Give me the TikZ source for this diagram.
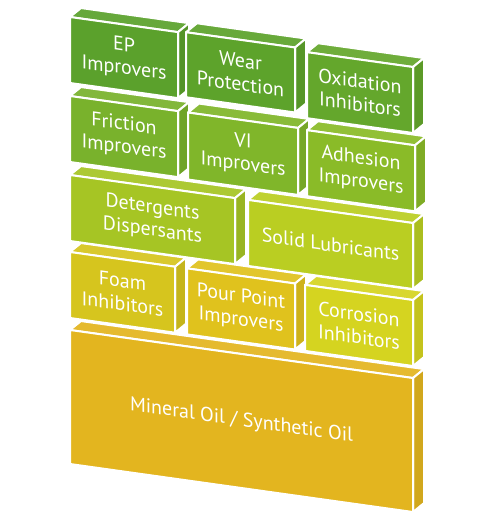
\documentclass[tikz,border=0pt]{standalone}
\usepackage{fontspec}
\setmainfont{PT Sans}
\definecolor{cEP}{HTML}{5BA12C}
\definecolor{cWear}{HTML}{5DA32B}
\definecolor{cOx}{HTML}{64A72C}
\definecolor{cFric}{HTML}{79B22C}
\definecolor{cVI}{HTML}{80B62A}
\definecolor{cAdh}{HTML}{8ABB28}
\definecolor{cDet}{HTML}{A6C524}
\definecolor{cSol}{HTML}{BACE22}
\definecolor{cFoam}{HTML}{D6C51E}
\definecolor{cPour}{HTML}{E0C21D}
\definecolor{cCorr}{HTML}{D5D420}
\definecolor{cBase}{HTML}{E3B51F}
\newcommand\blk[7]{%
  \filldraw[face, fill=#6!93!white] (#2,-#4) -- ({#2+11},{-#4+10.5}) -- ({#3+11},{-#4+10.5}) -- (#3,-#4) -- cycle;
  \filldraw[face, fill=#6!92!black] (#3,-#4) -- ({#3+11},{-#4+10.5}) -- ({#3+11},{-#5+10.5}) -- (#3,-#5) -- cycle;
  \filldraw[face, fill=#6] (#2,-#4) rectangle (#3,-#5);
  \node[lbl] (#1) at ({(#2+#3)/2},{-(#4+#5)/2}) {#7};
}
\begin{document}
\begin{tikzpicture}[x=1pt,y=1pt,
  face/.style={draw=white, line width=2pt, line join=round},
  lbl/.style={text=white, font=\fontsize{20}{23}\selectfont, align=center, transform shape, inner sep=0pt}]
\useasboundingbox (0,0) rectangle (480,-524);
\begin{scope}[cm={1,-0.14,0,1,(0,9.8)}]
\blk{base}{70}{413}{330}{464}{cBase}{Mineral Oil / Synthetic Oil}
\blk{foam}{70}{175}{252}{318}{cFoam}{Foam\\Inhibitors}
\blk{pour}{187}{295}{252}{318}{cPour}{Pour Point\\Improvers}
\blk{corr}{305}{413}{252}{318}{cCorr}{Corrosion\\Inhibitors}
\blk{det}{70}{235}{175}{241}{cDet}{Detergents\\Dispersants}
\blk{sol}{248}{413}{175}{241}{cSol}{Solid Lubricants}
\blk{fric}{70}{178}{96}{162}{cFric}{Friction\\Improvers}
\blk{vi}{188}{298}{96}{163}{cVI}{VI\\Improvers}
\blk{adh}{307}{415}{97}{163}{cAdh}{Adhesion\\Improvers}
\blk{ep}{70}{178}{17}{83}{cEP}{EP\\Improvers}
\blk{wear}{186}{295}{16}{81}{cWear}{Wear\\Protection}
\blk{ox}{307}{413}{19}{85}{cOx}{Oxidation\\Inhibitors}
\end{scope}
\end{tikzpicture}
\end{document}
